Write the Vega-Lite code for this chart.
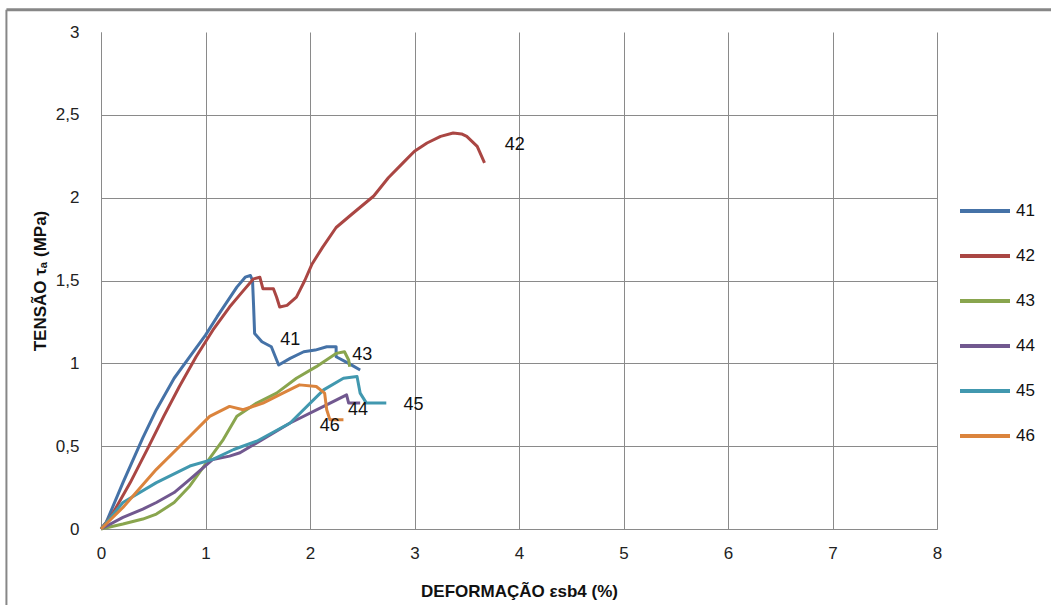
{
  "$schema": "https://vega.github.io/schema/vega-lite/v6.json",
  "width": 836,
  "height": 497,
  "autosize": {"type": "none"},
  "padding": {"left": 101, "top": 32, "right": 114, "bottom": 76},
  "background": "white",
  "config": {
    "view": {"stroke": null},
    "font": "Liberation Sans",
    "axis": {
      "gridColor": "#8a8a8a",
      "domainColor": "#8a8a8a",
      "tickColor": "#8a8a8a",
      "labelFont": "Liberation Sans",
      "labelFontSize": 17,
      "labelColor": "#222222",
      "titleFont": "Liberation Sans",
      "titleFontSize": 17,
      "titleFontWeight": "bold",
      "titleColor": "#111111"
    }
  },
  "datasets": {
    "curves": [
      {"s":"41","i":0,"x":0,"y":0},{"s":"41","i":1,"x":0.05,"y":0.04},{"s":"41","i":2,"x":0.21,"y":0.28},{"s":"41","i":3,"x":0.4,"y":0.55},{"s":"41","i":4,"x":0.53,"y":0.72},{"s":"41","i":5,"x":0.7,"y":0.91},{"s":"41","i":6,"x":0.85,"y":1.04},{"s":"41","i":7,"x":1.0,"y":1.17},{"s":"41","i":8,"x":1.11,"y":1.28},{"s":"41","i":9,"x":1.3,"y":1.46},{"s":"41","i":10,"x":1.38,"y":1.52},{"s":"41","i":11,"x":1.43,"y":1.53},{"s":"41","i":12,"x":1.45,"y":1.5},{"s":"41","i":13,"x":1.46,"y":1.35},{"s":"41","i":14,"x":1.47,"y":1.18},{"s":"41","i":15,"x":1.54,"y":1.13},{"s":"41","i":16,"x":1.63,"y":1.10},{"s":"41","i":17,"x":1.70,"y":0.99},{"s":"41","i":18,"x":1.81,"y":1.03},{"s":"41","i":19,"x":1.94,"y":1.07},{"s":"41","i":20,"x":2.05,"y":1.08},{"s":"41","i":21,"x":2.16,"y":1.10},{"s":"41","i":22,"x":2.25,"y":1.10},{"s":"41","i":23,"x":2.25,"y":1.04},{"s":"41","i":24,"x":2.37,"y":1.00},{"s":"41","i":25,"x":2.48,"y":0.96},
      {"s":"42","i":0,"x":0,"y":0},{"s":"42","i":1,"x":0.1,"y":0.08},{"s":"42","i":2,"x":0.28,"y":0.28},{"s":"42","i":3,"x":0.45,"y":0.49},{"s":"42","i":4,"x":0.6,"y":0.68},{"s":"42","i":5,"x":0.75,"y":0.86},{"s":"42","i":6,"x":0.91,"y":1.04},{"s":"42","i":7,"x":1.07,"y":1.2},{"s":"42","i":8,"x":1.23,"y":1.34},{"s":"42","i":9,"x":1.35,"y":1.43},{"s":"42","i":10,"x":1.46,"y":1.51},{"s":"42","i":11,"x":1.52,"y":1.52},{"s":"42","i":12,"x":1.55,"y":1.45},{"s":"42","i":13,"x":1.65,"y":1.45},{"s":"42","i":14,"x":1.68,"y":1.40},{"s":"42","i":15,"x":1.71,"y":1.34},{"s":"42","i":16,"x":1.78,"y":1.35},{"s":"42","i":17,"x":1.87,"y":1.40},{"s":"42","i":18,"x":1.95,"y":1.50},{"s":"42","i":19,"x":2.02,"y":1.60},{"s":"42","i":20,"x":2.12,"y":1.70},{"s":"42","i":21,"x":2.25,"y":1.82},{"s":"42","i":22,"x":2.4,"y":1.9},{"s":"42","i":23,"x":2.61,"y":2.01},{"s":"42","i":24,"x":2.75,"y":2.12},{"s":"42","i":25,"x":2.89,"y":2.21},{"s":"42","i":26,"x":3.0,"y":2.28},{"s":"42","i":27,"x":3.12,"y":2.33},{"s":"42","i":28,"x":3.25,"y":2.37},{"s":"42","i":29,"x":3.37,"y":2.39},{"s":"42","i":30,"x":3.45,"y":2.385},{"s":"42","i":31,"x":3.5,"y":2.37},{"s":"42","i":32,"x":3.6,"y":2.31},{"s":"42","i":33,"x":3.67,"y":2.21},
      {"s":"43","i":0,"x":0,"y":0},{"s":"43","i":1,"x":0.21,"y":0.03},{"s":"43","i":2,"x":0.4,"y":0.06},{"s":"43","i":3,"x":0.53,"y":0.09},{"s":"43","i":4,"x":0.7,"y":0.16},{"s":"43","i":5,"x":0.85,"y":0.26},{"s":"43","i":6,"x":1.01,"y":0.40},{"s":"43","i":7,"x":1.17,"y":0.54},{"s":"43","i":8,"x":1.30,"y":0.68},{"s":"43","i":9,"x":1.49,"y":0.76},{"s":"43","i":10,"x":1.68,"y":0.82},{"s":"43","i":11,"x":1.87,"y":0.91},{"s":"43","i":12,"x":2.06,"y":0.98},{"s":"43","i":13,"x":2.25,"y":1.06},{"s":"43","i":14,"x":2.33,"y":1.07},{"s":"43","i":15,"x":2.37,"y":1.02},{"s":"43","i":16,"x":2.38,"y":0.98},
      {"s":"44","i":0,"x":0,"y":0},{"s":"44","i":1,"x":0.21,"y":0.07},{"s":"44","i":2,"x":0.4,"y":0.12},{"s":"44","i":3,"x":0.53,"y":0.16},{"s":"44","i":4,"x":0.7,"y":0.22},{"s":"44","i":5,"x":0.85,"y":0.30},{"s":"44","i":6,"x":1.07,"y":0.42},{"s":"44","i":7,"x":1.23,"y":0.44},{"s":"44","i":8,"x":1.33,"y":0.46},{"s":"44","i":9,"x":1.49,"y":0.52},{"s":"44","i":10,"x":1.81,"y":0.64},{"s":"44","i":11,"x":2.13,"y":0.74},{"s":"44","i":12,"x":2.35,"y":0.81},{"s":"44","i":13,"x":2.37,"y":0.76},{"s":"44","i":14,"x":2.48,"y":0.76},
      {"s":"45","i":0,"x":0,"y":0},{"s":"45","i":1,"x":0.21,"y":0.16},{"s":"45","i":2,"x":0.53,"y":0.28},{"s":"45","i":3,"x":0.85,"y":0.38},{"s":"45","i":4,"x":1.07,"y":0.42},{"s":"45","i":5,"x":1.27,"y":0.48},{"s":"45","i":6,"x":1.49,"y":0.53},{"s":"45","i":7,"x":1.81,"y":0.64},{"s":"45","i":8,"x":2.13,"y":0.84},{"s":"45","i":9,"x":2.32,"y":0.91},{"s":"45","i":10,"x":2.45,"y":0.92},{"s":"45","i":11,"x":2.48,"y":0.82},{"s":"45","i":12,"x":2.54,"y":0.76},{"s":"45","i":13,"x":2.73,"y":0.76},
      {"s":"46","i":0,"x":0,"y":0},{"s":"46","i":1,"x":0.21,"y":0.13},{"s":"46","i":2,"x":0.53,"y":0.36},{"s":"46","i":3,"x":0.85,"y":0.56},{"s":"46","i":4,"x":1.04,"y":0.68},{"s":"46","i":5,"x":1.23,"y":0.74},{"s":"46","i":6,"x":1.36,"y":0.72},{"s":"46","i":7,"x":1.55,"y":0.76},{"s":"46","i":8,"x":1.74,"y":0.82},{"s":"46","i":9,"x":1.90,"y":0.87},{"s":"46","i":10,"x":2.06,"y":0.86},{"s":"46","i":11,"x":2.14,"y":0.82},{"s":"46","i":12,"x":2.16,"y":0.72},{"s":"46","i":13,"x":2.19,"y":0.66},{"s":"46","i":14,"x":2.32,"y":0.66}
    ],
    "labels": [
      {"t":"41","x":1.81,"y":1.14},
      {"t":"42","x":3.96,"y":2.32},
      {"t":"43","x":2.50,"y":1.05},
      {"t":"44","x":2.46,"y":0.72},
      {"t":"45","x":2.99,"y":0.75},
      {"t":"46","x":2.19,"y":0.62}
    ]
  },
  "layer": [
    {
      "data": {"values": [{}]},
      "mark": {"type": "rule", "clip": false, "color": "#878787", "strokeWidth": 3},
      "encoding": {
        "x": {"datum": -0.905, "type": "quantitative"},
        "x2": {"datum": 9.2},
        "y": {"datum": 3.135, "type": "quantitative"}
      }
    },
    {
      "data": {"values": [{}]},
      "mark": {"type": "rule", "clip": false, "color": "#878787", "strokeWidth": 2},
      "encoding": {
        "x": {"datum": -0.905, "type": "quantitative"},
        "y": {"datum": 3.135, "type": "quantitative"},
        "y2": {"datum": -0.6}
      }
    },
    {
      "data": {"name": "curves"},
      "mark": {"type": "line", "strokeWidth": 3, "strokeJoin": "round"},
      "encoding": {
        "x": {
          "field": "x", "type": "quantitative",
          "scale": {"domain": [0, 8], "nice": false},
          "axis": {
            "title": "DEFORMAÇÃO εsb4 (%)",
            "values": [0,1,2,3,4,5,6,7,8],
            "format": "d",
            "labelFlush": false,
            "tickSize": 0,
            "labelPadding": 16,
            "titlePadding": 22,
            "grid": true
          }
        },
        "y": {
          "field": "y", "type": "quantitative",
          "scale": {"domain": [0, 3], "nice": false},
          "axis": {
            "title": "TENSÃO τₐ (MPa)",
            "values": [0,0.5,1,1.5,2,2.5,3],
            "labelExpr": "replace(format(datum.value, '~g'), '.', ',')",
            "labelFlush": false,
            "tickSize": 0,
            "labelPadding": 22,
            "titlePadding": 6,
            "grid": true,
            "gridOpacity": {"condition": {"test": "datum.value == 3", "value": 0}, "value": 1}
          }
        },
        "color": {
          "field": "s", "type": "nominal",
          "scale": {
            "domain": ["41","42","43","44","45","46"],
            "range": ["#4572A7","#AA4643","#89A54E","#71588F","#4198AF","#DB843D"]
          },
          "legend": {
            "title": null,
            "orient": "none",
            "legendX": 857,
            "legendY": 152,
            "padding": 0,
            "symbolType": "stroke",
            "symbolStrokeWidth": 4,
            "symbolSize": 2500,
            "rowPadding": 10,
            "labelFontSize": 17,
            "labelFont": "Liberation Sans",
            "labelColor": "#111111",
            "labelOffset": 4
          }
        },
        "order": {"field": "i", "type": "quantitative"}
      }
    },
    {
      "data": {"name": "labels"},
      "mark": {"type": "text", "fontSize": 18, "font": "Liberation Sans", "color": "#111111", "align": "center", "baseline": "middle"},
      "encoding": {
        "x": {"field": "x", "type": "quantitative"},
        "y": {"field": "y", "type": "quantitative"},
        "text": {"field": "t"}
      }
    }
  ]
}
